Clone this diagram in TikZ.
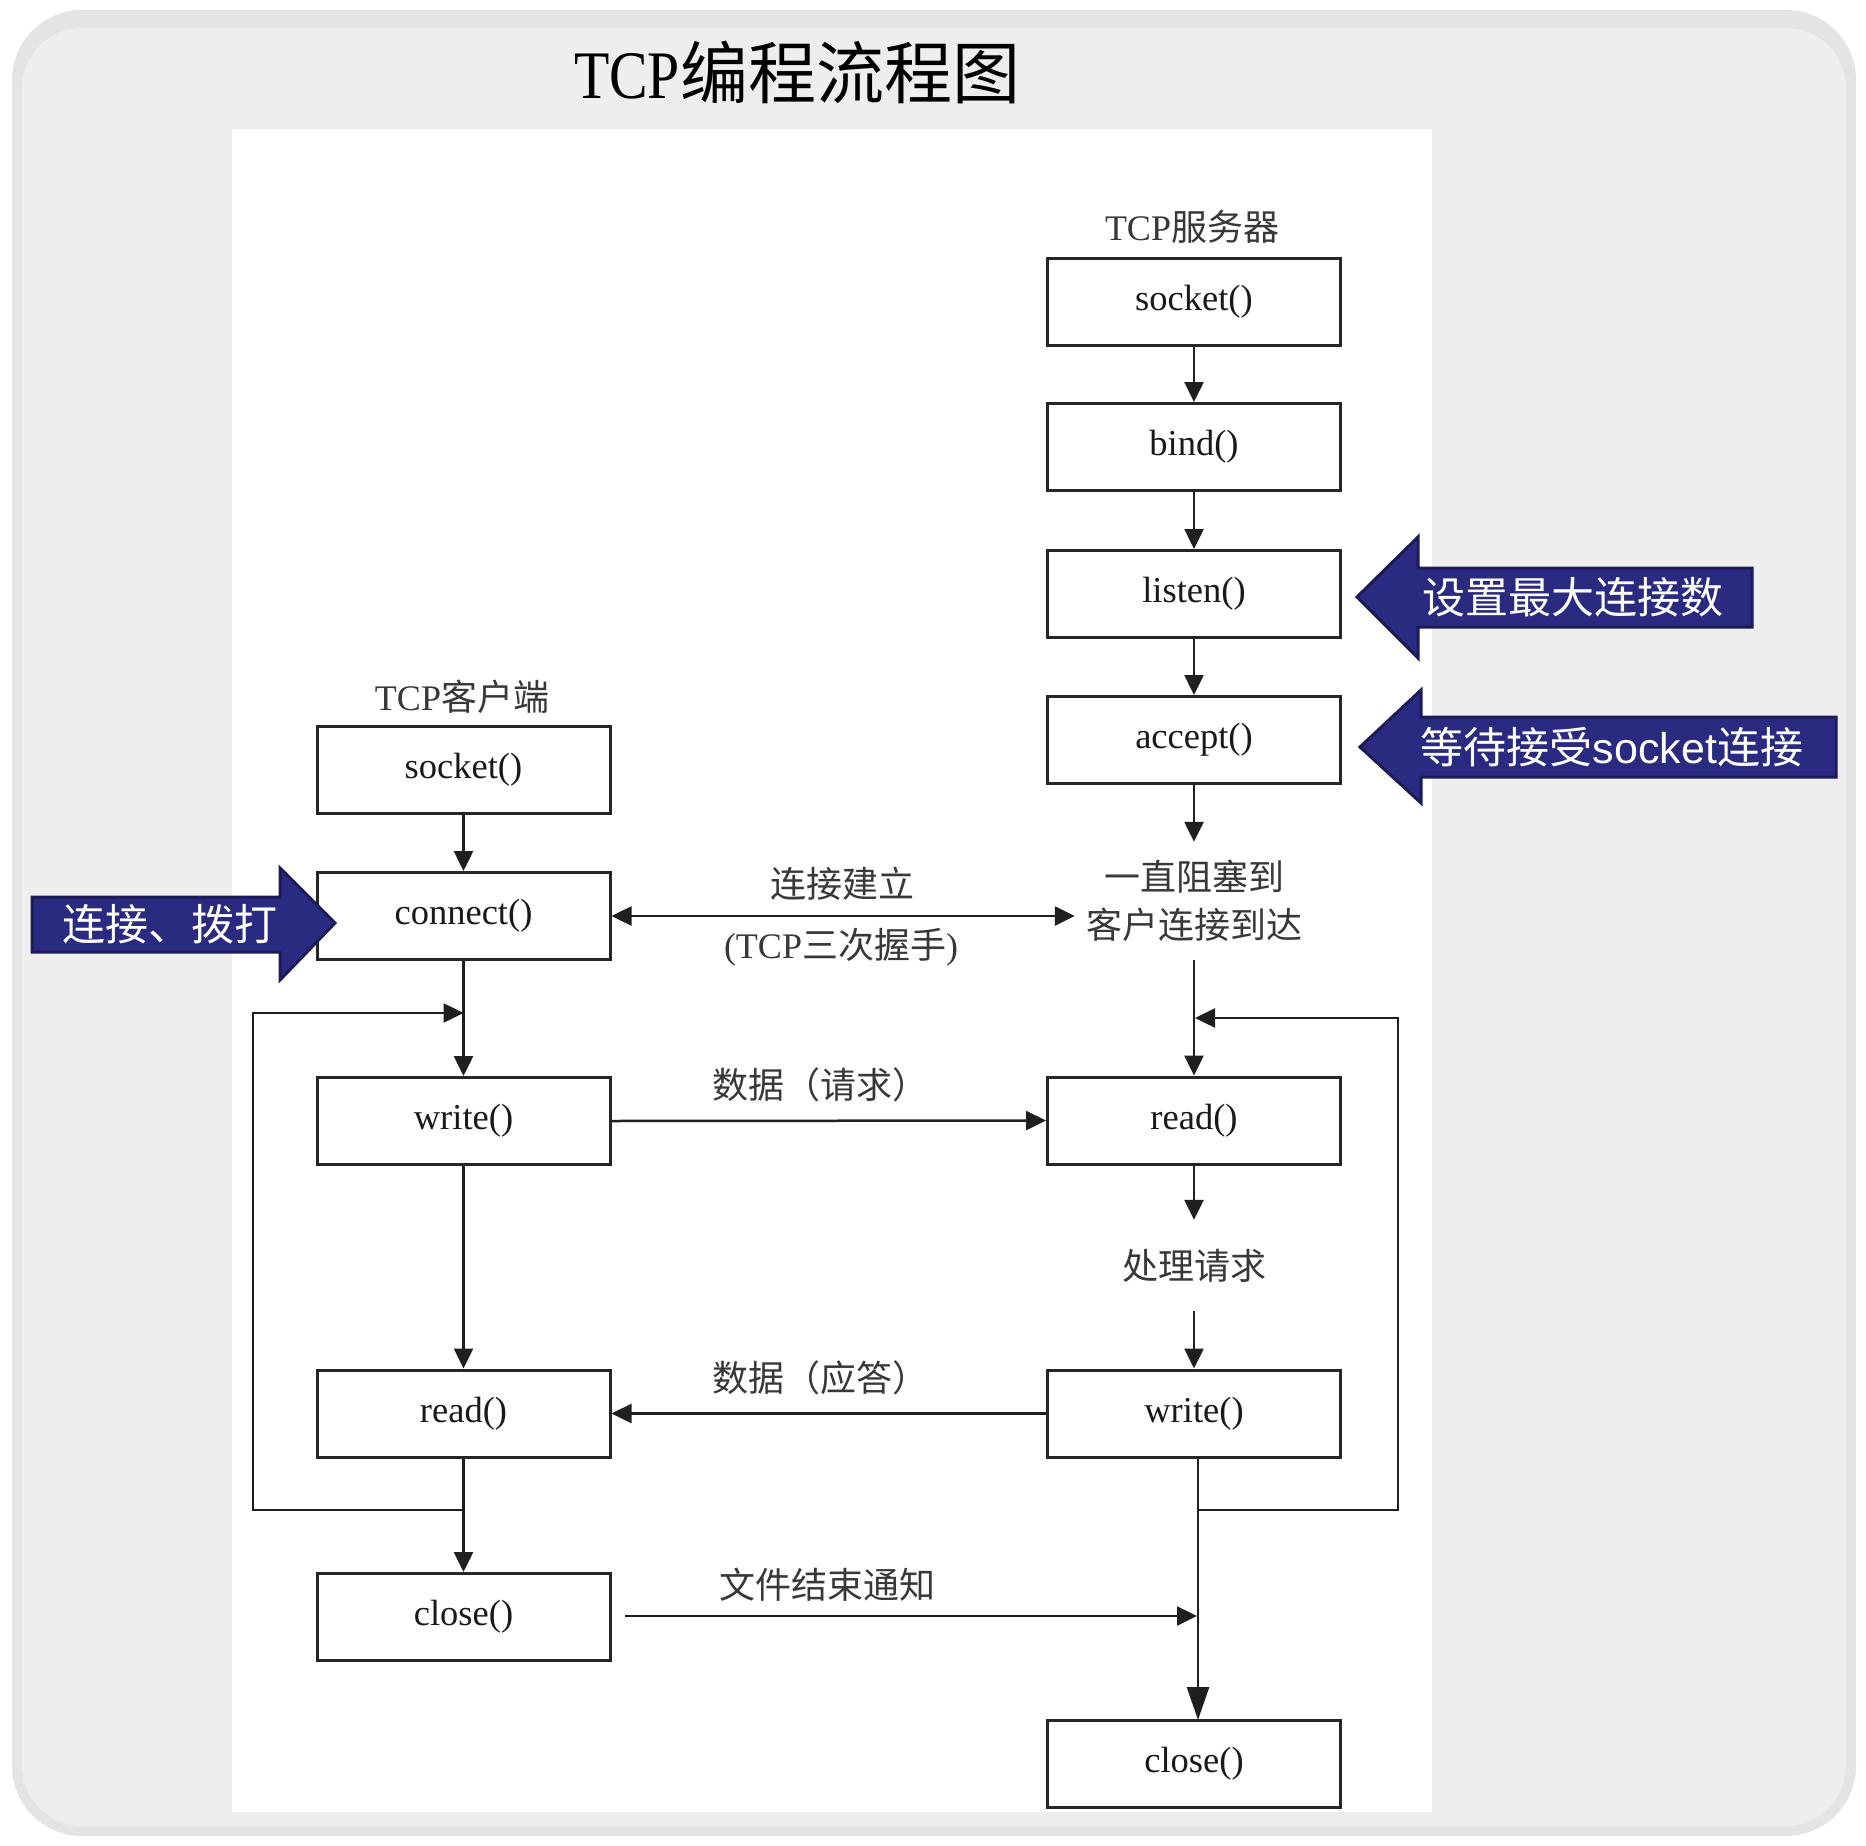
\documentclass[tikz,border=0pt]{standalone}
\usepackage{fontspec}
\usepackage{graphicx}
\setmainfont{Liberation Serif}
\newfontfamily\cjk{Noto Sans CJK SC}
\newfontfamily\arialf{Liberation Sans}
\usetikzlibrary{arrows.meta}
\definecolor{navyfill}{HTML}{2A2A80}
\definecolor{navyline}{HTML}{1B1B5A}
\definecolor{panelgray}{HTML}{EEEEEE}
\definecolor{shadowgray}{HTML}{E4E4E4}
\tikzset{
  fbox/.style={draw=black!85, line width=3pt, fill=white, minimum width=293pt,
    minimum height=87pt, inner sep=0pt, font=\fontsize{36.5}{40}\selectfont, text=black!90},
  lbl/.style={font=\fontsize{36}{48}\selectfont\cjk, text=black!78, inner sep=0pt, align=center},
  conn/.style={draw=black!88, line width=2.5pt},
  arr/.style={conn, -{Triangle[length=20pt,width=19pt]}},
  dblarr/.style={conn, {Triangle[length=20pt,width=19pt]}-{Triangle[length=20pt,width=19pt]}},
  bigarr/.style={conn, -{Triangle[length=33pt,width=22pt]}},
  bluearrow/.style={fill=navyfill, draw=navyline, line width=3pt, line join=miter},
  bluetext/.style={text=white, font=\fontsize{43}{48}\selectfont\cjk, inner sep=0pt}
}
\begin{document}
\begin{tikzpicture}[x=1pt,y=-1pt]
\useasboundingbox (0,0) rectangle (1866,1846);
% background panels
\fill[white] (0,0) rectangle (1866,1846);
\fill[shadowgray, rounded corners=70pt] (12,10) rectangle (1856,1836);
\fill[panelgray, rounded corners=60pt] (22,28) rectangle (1846,1826);
\fill[white] (232,129) rectangle (1432,1812);

% title
\node[inner sep=0pt] (title) at (797,72) {\fontsize{68}{70}\selectfont\scalebox{0.85}[1]{TCP}{\cjk 编程流程图}};

% server column
\node[lbl] (slabel) at (1192,227) {{\rmfamily TCP}服务器};
\node[fbox] (ssock) at (1194,301.5) {socket()};
\node[fbox] (sbind) at (1194,447) {bind()};
\node[fbox] (slisten) at (1194,594) {listen()};
\node[fbox] (saccept) at (1194,740) {accept()};
\node[lbl, minimum width=238pt, minimum height=118pt] (wait) at (1194,901) {一直阻塞到\\客户连接到达};
\node[fbox] (sread) at (1194,1120.5) {read()};
\node[lbl, minimum height=91pt] (proc) at (1194,1265.5) {处理请求};
\node[fbox] (swrite) at (1194,1413.5) {write()};
\node[fbox] (sclose) at (1194,1764) {close()};

% client column
\node[lbl] (clabel) at (462,697) {{\rmfamily TCP}客户端};
\node[fbox] (csock) at (463.5,770) {socket()};
\node[fbox] (cconn) at (463.5,916) {connect()};
\node[fbox] (cwrite) at (463.5,1121) {write()};
\node[fbox] (cread) at (463.5,1413.5) {read()};
\node[fbox] (cclose) at (463.5,1617) {close()};

% middle labels
\node[lbl] (lconn1) at (842,884) {连接建立};
\node[lbl] (lconn2) at (841,947) {{\rmfamily (TCP}三次握手{\rmfamily )}};
\node[lbl] (lreq) at (820,1085) {数据（请求）};
\node[lbl] (lresp) at (820,1378) {数据（应答）};
\node[lbl] (leof) at (827,1585) {文件结束通知};

% server arrows
\draw[arr] (ssock) -- (sbind);
\draw[arr] (sbind) -- (slisten);
\draw[arr] (slisten) -- (saccept);
\draw[arr] (saccept) -- (wait);
\draw[arr] (wait) -- (sread);
\draw[arr] (sread) -- (proc);
\draw[arr] (proc) -- (swrite);
\coordinate (sw1) at (1198,1457);
\coordinate (sc1) at (1198,1720);
\draw[bigarr] (sw1) -- (sc1);
\coordinate (sl1) at (1198,1510);
\coordinate (sl2) at (1195,1018);
\draw[arr] (sl1) -| (1398,1018) -- (sl2);

% client arrows
\draw[arr] (csock) -- (cconn);
\draw[arr] (cconn) -- (cwrite);
\draw[arr] (cwrite) -- (cread);
\draw[arr] (cread) -- (cclose);
\coordinate (cl1) at (463.5,1510);
\coordinate (cl2) at (463.5,1013);
\draw[arr] (cl1) -| (253,1013) -- (cl2);

% cross arrows
\draw[dblarr] (cconn.east) -- (cconn.east -| wait.west);
\draw[arr] (cwrite.east) -- (sread.west);
\draw[arr] (swrite.west) -- (cread.east);
\coordinate (eofstart) at (625,1616);
\coordinate (eofend) at (1197,1616);
\draw[arr] (eofstart) -- (eofend);

% blue callout arrows
\draw[bluearrow] (1357,597) -- (1418,537) -- (1418,568) -- (1752,568) -- (1752,627) -- (1418,627) -- (1418,658) -- cycle;
\node[bluetext] (t1) at (1573,597) {设置最大连接数};
\draw[bluearrow] (1360,747) -- (1421,690) -- (1421,717) -- (1836,717) -- (1836,777) -- (1421,777) -- (1421,803) -- cycle;
\node[bluetext] (t2) at (1612,747) {等待接受{\arialf socket}连接};
\draw[bluearrow] (32,897) -- (280,897) -- (280,868) -- (335,923) -- (280,980) -- (280,952) -- (32,952) -- cycle;
\node[bluetext] (t3) at (170,924) {连接、拨打};
\end{tikzpicture}
\end{document}
